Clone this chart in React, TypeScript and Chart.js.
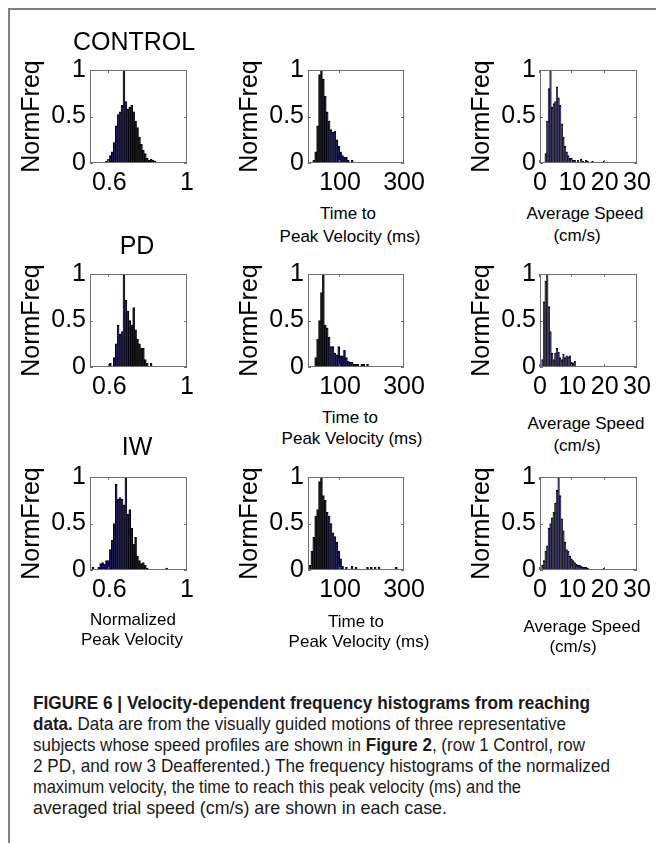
import React, { useEffect, useLayoutEffect, useRef } from "react";
import { Chart, registerables } from "chart.js";

Chart.register(...registerables);

// ---------------- data ----------------
// Normalized peak velocity histograms (bin width 0.01)
const NPV_BIN = 0.01;
const controlNpvStart = 0.58;
const controlNpv = [0.02, 0.04, 0.08, 0.12, 0.22, 0.4, 0.52, 0.55, 0.62, 1.0, 0.66, 0.58, 0.6, 0.62, 0.55, 0.45, 0.38, 0.28, 0.2, 0.14, 0.1, 0.05, 0.03, 0.04, 0.03, 0.02];
const pdNpvStart = 0.6;
const pdNpv = [0.04, 0, 0.1, 0.25, 0.45, 0.35, 0.38, 1.0, 0.72, 0.6, 0.5, 0.45, 0.64, 0.4, 0.3, 0.25, 0.2, 0.2, 0.08, 0.04, 0, 0.04];
const iwNpvStart = 0.51;
const iwNpv = [0.03, 0, 0, 0.03, 0.07, 0.08, 0.06, 0.1, 0.1, 0.22, 0.32, 0.5, 0.92, 0.76, 0.78, 0.76, 0.7, 1.0, 0.6, 0.65, 0.45, 0.28, 0.35, 0.15, 0.1, 0.07, 0.08, 0.05, 0.02, 0, 0, 0, 0, 0, 0, 0, 0, 0, 0.02];

// Time to peak velocity histograms (ms, bin width 6)
const TPV_BIN = 6;
const controlTpvStart = 15;
const controlTpv = [0.03, 0.12, 0.4, 0.95, 1.0, 0.9, 0.72, 0.55, 0.45, 0.36, 0.33, 0.34, 0.25, 0.18, 0.12, 0.08, 0.06, 0.06, 0.03, 0, 0.03];
const pdTpvStart = 21;
const pdTpv = [0.1, 0.3, 0.5, 0.8, 1.0, 0.45, 0.42, 0.32, 0.22, 0.22, 0.15, 0.13, 0.22, 0.12, 0.12, 0.18, 0.1, 0.06, 0.05, 0.05, 0.03, 0.03, 0.03, 0, 0.03, 0.03, 0, 0.03];
const iwTpvStart = 3;
const iwTpv = [0.05, 0.2, 0.35, 0.58, 0.65, 0.95, 1.0, 0.8, 0.75, 0.62, 0.58, 0.5, 0.4, 0.36, 0.3, 0.2, 0.12, 0.04, 0, 0.03, 0, 0, 0.04, 0, 0.03, 0, 0, 0, 0, 0, 0.03, 0, 0.03, 0, 0.03, 0, 0.03, 0, 0, 0, 0, 0, 0, 0, 0, 0.03];

// Average speed histograms (cm/s, bin width 0.5)
const SPD_BIN = 0.5;
const controlSpdStart = 1.5;
const controlSpd = [0.1, 0.45, 0.8, 1.0, 0.6, 0.64, 0.66, 0.82, 0.7, 0.62, 0.42, 0.28, 0.18, 0.12, 0.08, 0.05, 0.05, 0.03, 0.03, 0, 0.03, 0, 0.04, 0.02, 0, 0.03, 0.02, 0, 0, 0.02, 0, 0, 0, 0, 0, 0, 0.02];
const pdSpdStart = 0.5;
const pdSpd = [0.08, 0.7, 0.92, 1.0, 0.65, 0.38, 0.15, 0.08, 0.15, 0.2, 0.16, 0.1, 0.08, 0.14, 0.1, 0.12, 0.11, 0.12, 0.05, 0.04, 0.06];
const iwSpdStart = 0.5;
const iwSpd = [0.05, 0.1, 0.2, 0.26, 0.45, 0.5, 0.56, 0.62, 0.72, 0.86, 1.0, 0.8, 0.55, 0.42, 0.3, 0.22, 0.2, 0.15, 0.12, 0.1, 0.08, 0.06, 0.05, 0.05, 0.04, 0.03, 0.03, 0.03, 0.02, 0, 0, 0, 0, 0, 0, 0, 0, 0, 0.02];

// Axis ranges / tick labels
const npvRange = [0.5, 1];
const npvTicks = [0.6, 1];
const tpvRange = [0, 300];
const tpvTicks = [100, 300];
const spdRange = [0, 30];
const spdTicks = [0, 10, 20, 30];
const yTicks = [0, 0.5, 1];
const yTitle = "NormFreq";
const rowTitles = ["CONTROL", "PD", "IW"];

// ---------------- layout ----------------
const FONT = "'Liberation Sans', Arial, Helvetica, sans-serif";
const AXIS_FONT_SIZE = 25;
const COL_LEFT = [90, 308, 540];
const COL_W = [97, 96, 97];
const ROW_TOP = [67, 271, 474];
const PLOT_H = 96;
const Y_AXIS_W = 73;
const PAD_TOP = 16;
const PAD_RIGHT = 34;
const X_AXIS_H = 40;

type PanelSpec = {
  row: number;
  col: number;
  values: number[];
  start: number;
  bin: number;
  range: number[];
  ticks: number[];
};

const panels: PanelSpec[] = [
  { row: 0, col: 0, values: controlNpv, start: controlNpvStart, bin: NPV_BIN, range: npvRange, ticks: npvTicks },
  { row: 0, col: 1, values: controlTpv, start: controlTpvStart, bin: TPV_BIN, range: tpvRange, ticks: tpvTicks },
  { row: 0, col: 2, values: controlSpd, start: controlSpdStart, bin: SPD_BIN, range: spdRange, ticks: spdTicks },
  { row: 1, col: 0, values: pdNpv, start: pdNpvStart, bin: NPV_BIN, range: npvRange, ticks: npvTicks },
  { row: 1, col: 1, values: pdTpv, start: pdTpvStart, bin: TPV_BIN, range: tpvRange, ticks: tpvTicks },
  { row: 1, col: 2, values: pdSpd, start: pdSpdStart, bin: SPD_BIN, range: spdRange, ticks: spdTicks },
  { row: 2, col: 0, values: iwNpv, start: iwNpvStart, bin: NPV_BIN, range: npvRange, ticks: npvTicks },
  { row: 2, col: 1, values: iwTpv, start: iwTpvStart, bin: TPV_BIN, range: tpvRange, ticks: tpvTicks },
  { row: 2, col: 2, values: iwSpd, start: iwSpdStart, bin: SPD_BIN, range: spdRange, ticks: spdTicks },
];

const framePlugin = {
  id: "matlabFrame",
  afterDatasetsDraw(chart: any) {
    const { ctx, chartArea: a, scales } = chart;
    ctx.save();
    ctx.strokeStyle = "#6f6f6f";
    ctx.lineWidth = 1;
    ctx.strokeRect(a.left + 0.5, a.top + 0.5, a.width - 1, a.height - 1);
    const tl = 3;
    ctx.beginPath();
    for (const t of scales.x.ticks) {
      const px = Math.round(scales.x.getPixelForValue(t.value)) - 0.5;
      ctx.moveTo(px, a.bottom);
      ctx.lineTo(px, a.bottom - tl);
      ctx.moveTo(px, a.top);
      ctx.lineTo(px, a.top + tl);
    }
    for (const t of scales.y.ticks) {
      const py = Math.round(scales.y.getPixelForValue(t.value)) + 0.5;
      ctx.moveTo(a.left, py);
      ctx.lineTo(a.left + tl, py);
      ctx.moveTo(a.right, py);
      ctx.lineTo(a.right - tl, py);
    }
    ctx.stroke();
    ctx.restore();
  },
};

function HistPanel({ p }: { p: PanelSpec }) {
  const ref = useRef<HTMLCanvasElement>(null);
  const cw = Y_AXIS_W + COL_W[p.col] + PAD_RIGHT;
  const ch = PAD_TOP + PLOT_H + X_AXIS_H;
  useEffect(() => {
    const data = p.values.map((v, i) => ({ x: p.start + (i + 0.5) * p.bin, y: v }));
    const chart = new Chart(ref.current as HTMLCanvasElement, {
      type: "bar",
      data: {
        datasets: [
          {
            data: data as any,
            backgroundColor: "#00004c",
            borderColor: "#000000",
            borderWidth: 0.85,
            borderSkipped: "start",
            barPercentage: 1,
            categoryPercentage: 1,
          },
        ],
      },
      options: {
        responsive: false,
        animation: false,
        devicePixelRatio: 1,
        layout: { padding: { left: 0, right: PAD_RIGHT, top: PAD_TOP, bottom: 0 } },
        plugins: { legend: { display: false }, tooltip: { enabled: false }, title: { display: false } },
        scales: {
          x: {
            type: "linear",
            min: p.range[0],
            max: p.range[1],
            offset: false,
            afterBuildTicks: (s: any) => {
              s.ticks = p.ticks.map((v) => ({ value: v }));
            },
            afterFit: (s: any) => {
              s.height = X_AXIS_H;
            },
            ticks: {
              autoSkip: false,
              maxRotation: 0,
              minRotation: 0,
              padding: 5,
              color: "#000",
              font: { family: FONT, size: AXIS_FONT_SIZE },
              callback: (v: any) => String(v),
            },
            grid: { display: false, drawTicks: false },
            border: { display: false },
          },
          y: {
            type: "linear",
            min: 0,
            max: 1,
            afterBuildTicks: (s: any) => {
              s.ticks = yTicks.map((v) => ({ value: v }));
            },
            afterFit: (s: any) => {
              s.width = Y_AXIS_W;
            },
            ticks: {
              padding: 4,
              color: "#000",
              font: { family: FONT, size: AXIS_FONT_SIZE },
              callback: (v: any) => String(v),
            },
            grid: { display: false, drawTicks: false },
            border: { display: false },
            title: {
              display: true,
              text: yTitle,
              color: "#000",
              padding: 0,
              font: { family: FONT, size: AXIS_FONT_SIZE },
            },
          },
        },
      },
      plugins: [framePlugin],
    });
    return () => chart.destroy();
  }, []);
  return (
    <canvas
      ref={ref}
      width={cw}
      height={ch}
      style={{
        position: "absolute",
        left: COL_LEFT[p.col] - Y_AXIS_W,
        top: ROW_TOP[p.row] - PAD_TOP,
        width: cw,
        height: ch,
      }}
    />
  );
}

function Label({ x, y, size, text }: { x: number; y: number; size: number; text: string }) {
  return (
    <div
      style={{
        position: "absolute",
        left: x,
        top: y,
        transform: "translate(-50%, -50%)",
        whiteSpace: "nowrap",
        fontFamily: FONT,
        fontSize: size,
        lineHeight: 1,
        color: "#000",
      }}
    >
      {text}
    </div>
  );
}

const axisLabels: { x: number; y: number; text: string }[] = [
  { x: 348, y: 213, text: "Time to" },
  { x: 350, y: 236, text: "Peak Velocity (ms)" },
  { x: 585, y: 213, text: "Average Speed" },
  { x: 577, y: 235, text: "(cm/s)" },
  { x: 350, y: 417, text: "Time to" },
  { x: 352, y: 438, text: "Peak Velocity (ms)" },
  { x: 586, y: 423, text: "Average Speed" },
  { x: 577, y: 445, text: "(cm/s)" },
  { x: 133, y: 619, text: "Normalized" },
  { x: 132, y: 639, text: "Peak Velocity" },
  { x: 356, y: 621, text: "Time to" },
  { x: 359, y: 641, text: "Peak Velocity (ms)" },
  { x: 582, y: 626, text: "Average Speed" },
  { x: 573, y: 646, text: "(cm/s)" },
];

const titlePos = [
  { x: 134, y: 41 },
  { x: 137, y: 245 },
  { x: 137, y: 446 },
];

function FitLine({ top, width, children }: { top: number; width: number; children: React.ReactNode }) {
  const ref = useRef<HTMLSpanElement>(null);
  useLayoutEffect(() => {
    const el = ref.current;
    if (!el) return;
    el.style.transform = "none";
    const w = el.getBoundingClientRect().width;
    if (w > 0) el.style.transform = `scaleX(${width / w})`;
  }, []);
  return (
    <div
      style={{
        position: "absolute",
        left: 33,
        top: top - 10,
        whiteSpace: "nowrap",
        lineHeight: "20px",
        fontSize: 18.5,
        color: "#1a1a1a",
        fontFamily: FONT,
      }}
    >
      <span ref={ref} style={{ display: "inline-block", transformOrigin: "0 50%" }}>
        {children}
      </span>
    </div>
  );
}

export default function App() {
  return (
    <div
      style={{
        position: "absolute",
        left: 0,
        top: 0,
        width: 656,
        height: 843,
        background: "#fff",
        overflow: "hidden",
      }}
    >
      <div
        style={{
          position: "absolute",
          left: 8,
          top: 8,
          width: 700,
          height: 900,
          borderTop: "2px solid #808080",
          borderLeft: "2px solid #808080",
        }}
      />
      {panels.map((p, i) => (
        <HistPanel key={i} p={p} />
      ))}
      {rowTitles.map((t, i) => (
        <Label key={t} x={titlePos[i].x} y={titlePos[i].y} size={25} text={t} />
      ))}
      {axisLabels.map((l, i) => (
        <Label key={i} x={l.x} y={l.y} size={17} text={l.text} />
      ))}
      <FitLine top={703} width={557}>
        <b>FIGURE 6 | Velocity-dependent frequency histograms from reaching</b>
      </FitLine>
      <FitLine top={724} width={533}>
        <b>data.</b> Data are from the visually guided motions of three representative
      </FitLine>
      <FitLine top={745} width={552}>
        subjects whose speed profiles are shown in <b>Figure 2</b>, (row 1 Control, row
      </FitLine>
      <FitLine top={766} width={577}>
        2 PD, and row 3 Deafferented.) The frequency histograms of the normalized
      </FitLine>
      <FitLine top={787} width={488}>
        maximum velocity, the time to reach this peak velocity (ms) and the
      </FitLine>
      <FitLine top={808} width={414}>
        averaged trial speed (cm/s) are shown in each case.
      </FitLine>
    </div>
  );
}
